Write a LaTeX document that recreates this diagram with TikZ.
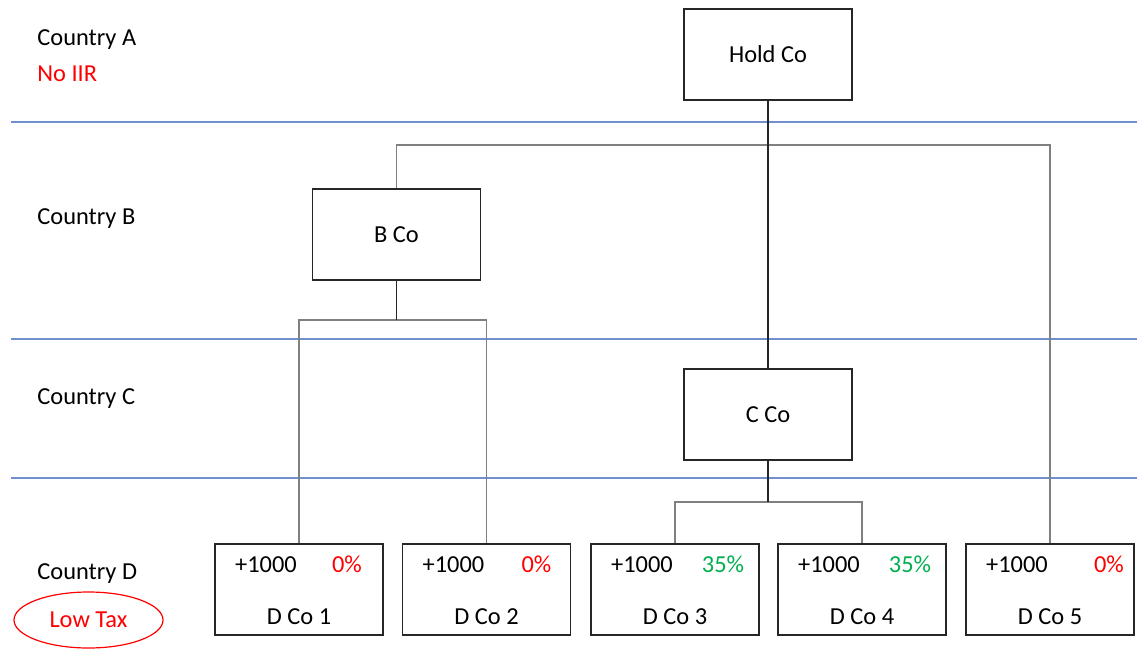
\documentclass[tikz,border=0pt]{standalone}
\usepackage{fontspec}
\setmainfont{Carlito}
\usetikzlibrary{shapes.geometric}
\definecolor{rulebl}{HTML}{6F8FCF}
\definecolor{taxred}{HTML}{FF0000}
\definecolor{taxgreen}{HTML}{00B050}
\definecolor{linkgray}{HTML}{808080}
\begin{document}
\begin{tikzpicture}[x=0.5pt,y=-0.5pt,
  font=\fontsize{12.2}{14}\selectfont,
  co/.style={draw=black!85, line width=0.7pt, fill=white,
             minimum width=84pt, minimum height=45.5pt, inner sep=0pt},
  lbl/.style={anchor=west, inner sep=0pt},
  link/.style={draw=linkgray, line width=0.7pt},
  mainlink/.style={draw=black!85, line width=0.7pt},
  border/.style={draw=rulebl, line width=0.6pt}]
\useasboundingbox (0,0) rectangle (1137,650);

% country bands
\draw[border] (11,122) -- (1137,122);
\draw[border] (11,339) -- (1137,339);
\draw[border] (11,478) -- (1137,478);

% country labels
\node[lbl] (ca) at (37,40) {Country A};
\node[lbl, text=taxred] (nir) at (37,74) {No IIR};
\node[lbl] (cb) at (37,219) {Country B};
\node[lbl] (cc) at (37,399) {Country C};
\node[lbl] (cd) at (37,574) {Country D};
\node[ellipse, draw=taxred, line width=0.6pt, text=taxred,
      minimum width=74.5pt, minimum height=28pt, inner sep=0pt] (low) at (88.5,620) {Low Tax};

% companies
\node[co] (hold) at (768,54.5) {Hold Co};
\node[co] (b) at (396.5,234.5) {B Co};
\node[co] (c) at (768,414.5) {C Co};

\foreach \n/\x/\p/\pc/\po in {1/299/0\%/taxred/132, 2/486.5/0\%/taxred/134,
                          3/675/35\%/taxgreen/132, 4/862/35\%/taxgreen/132,
                          5/1050/0\%/taxred/143}{
  \node[co] (d\n) at (\x,589.5) {};
  \node (d\n amt) at (\x-33,564.5) {+1000};
  \node[text=\pc] (d\n pct) at (\x-84+\po,564.5) {\p};
  \node (d\n name) at (\x,616.5) {D Co \n};
}

% ownership links
\coordinate (busH) at (768,145);
\coordinate (busB) at (396.5,320);
\coordinate (busC) at (768,502);
\draw[link] (b.north) |- (busH) -| (d5.north);
\draw[mainlink] (hold.south) -- (c.north);
\draw[link] (d1.north) |- (busB) -| (d2.north);
\draw[mainlink] (b.south) -- (busB);
\draw[link] (d3.north) |- (busC) -| (d4.north);
\draw[mainlink] (c.south) -- (busC);
\end{tikzpicture}
\end{document}
